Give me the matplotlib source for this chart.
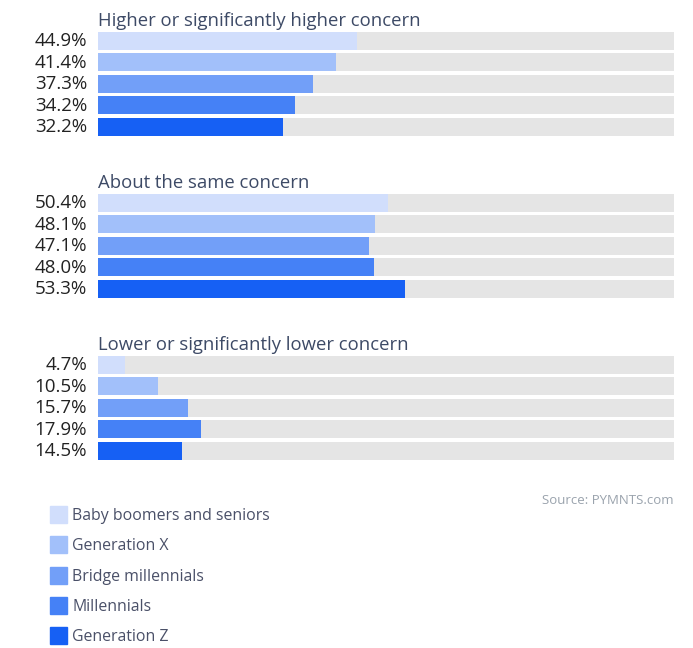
import matplotlib.pyplot as plt
from matplotlib.patches import Rectangle

plt.rcParams['font.family'] = ['Open Sans', 'DejaVu Sans']

groups = ['Higher or significantly higher concern',
          'About the same concern',
          'Lower or significantly lower concern']
generations = ['Baby boomers and seniors', 'Generation X', 'Bridge millennials',
               'Millennials', 'Generation Z']
higher = [44.9, 41.4, 37.3, 34.2, 32.2]
same = [50.4, 48.1, 47.1, 48.0, 53.3]
lower = [4.7, 10.5, 15.7, 17.9, 14.5]
colors = ['#d1defc', '#a2c0fa', '#729ff8', '#4581f6', '#1660f4']

W, H = 693, 648
fig = plt.figure(figsize=(W / 100, H / 100), dpi=100)
x0, x1 = 98, 674
ax = fig.add_axes([x0 / W, 0, (x1 - x0) / W, 1])
ax.set_xlim(0, 100)
ax.set_ylim(H, 0)
ax.axis('off')
px = (x1 - x0) / 100  # pixels per percent


def draw_group(top, title, values):
    ax.text(0, top - 5.5, title, fontsize=13.3, color='#3d4a66',
            ha='left', va='baseline')
    for i, v in enumerate(values):
        yc = top + 9 + i * 21.4
        ax.barh(yc, 100, height=18, color='#e5e5e5', left=0)
        ax.barh(yc, v, height=18, color=colors[i], left=0)
        ax.text(-11 / px, yc + 0.5, f'{v:.1f}%', fontsize=13.5, color='#222222',
                ha='right', va='center')


draw_group(32, groups[0], higher)
draw_group(194, groups[1], same)
draw_group(356, groups[2], lower)

ax.text(100, 501, 'Source: PYMNTS.com', fontsize=9.5, color='#9aa3ad',
        ha='right', va='center')

legend_tops = [506, 536, 567, 597, 627]
for name, c, t in zip(generations, colors, legend_tops):
    ax.add_patch(Rectangle(((50 - x0) / px, t), 17 / px, 17, color=c,
                           clip_on=False))
    ax.text((72 - x0) / px, t + 10, name, fontsize=11.4, color='#4a5068',
            ha='left', va='center')

fig.savefig('out.png', dpi=100)
